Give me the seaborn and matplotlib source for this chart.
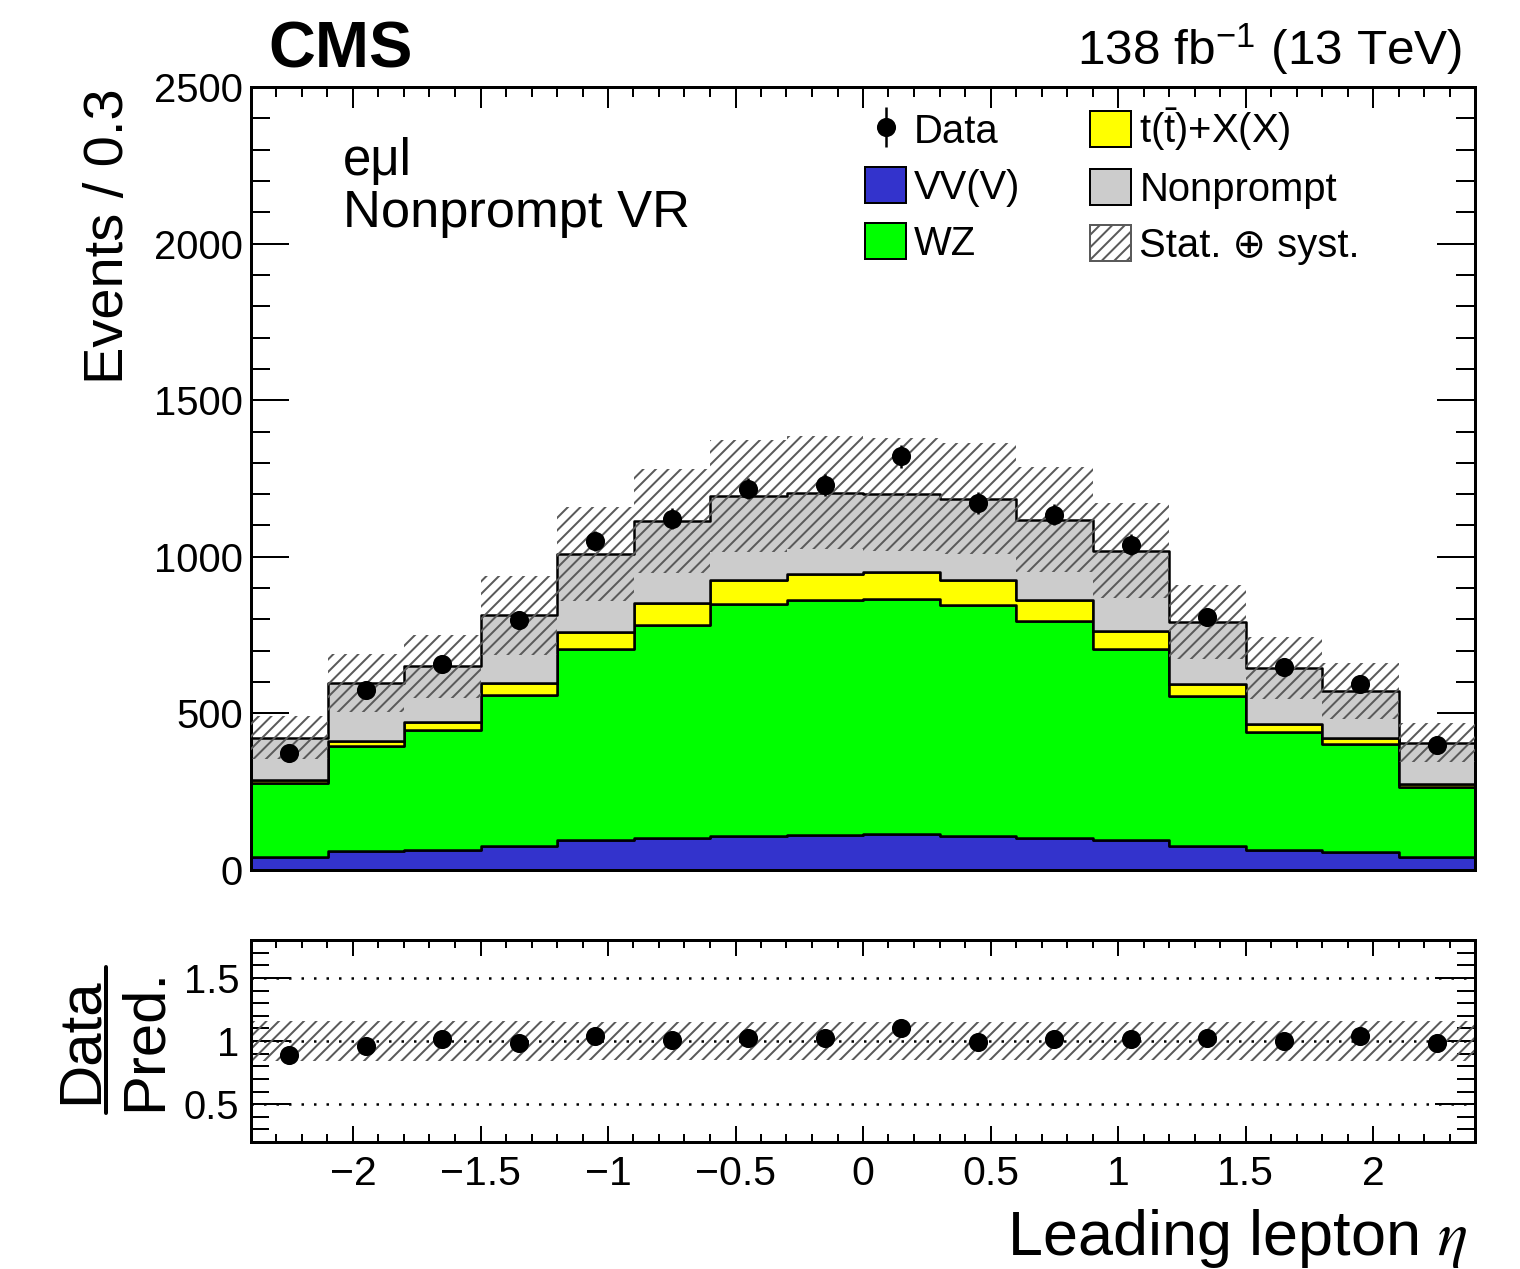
import numpy as np
import pandas as pd
import matplotlib
matplotlib.use("Agg")
import matplotlib.pyplot as plt
from matplotlib.ticker import MultipleLocator, FuncFormatter
from matplotlib.patches import Patch
from matplotlib.lines import Line2D
import seaborn as sns

# ---------------- data ----------------
bin_edges = [-2.4, -2.1, -1.8, -1.5, -1.2, -0.9, -0.6, -0.3, 0.0,
             0.3, 0.6, 0.9, 1.2, 1.5, 1.8, 2.1, 2.4]
vvv = [43, 61, 64, 77, 96, 103, 109, 112, 114, 109, 103, 96, 77, 64, 59, 43]
wz = [234, 335, 384, 483, 610, 680, 741, 751, 752, 738, 691, 611, 479, 376, 344, 223]
ttx = [10, 17, 24, 38, 55, 70, 77, 83, 86, 80, 68, 57, 39, 26, 19, 9]
nonprompt = [136, 184, 178, 215, 248, 261, 267, 258, 247, 259, 257, 256, 196, 179, 150, 132]
data_obs = [375, 575, 659, 799, 1050, 1121, 1218, 1228, 1321, 1172, 1135, 1039, 808, 647, 594, 400]
rel_unc = [0.16, 0.155, 0.155, 0.155, 0.15, 0.15, 0.15, 0.15, 0.15, 0.15, 0.15, 0.15,
           0.15, 0.155, 0.155, 0.155]

proc_names = ["VV(V)", "WZ", r"t($\bar{\mathrm{t}}$)+X(X)", "Nonprompt"]
proc_colors = ["#3333cc", "#00ff00", "#ffff00", "#cccccc"]
main_yticks = [0, 500, 1000, 1500, 2000, 2500]
ratio_yticks = [0.5, 1, 1.5]
x_ticks = [-2, -1.5, -1, -0.5, 0, 0.5, 1, 1.5, 2]

# ---------------- style ----------------
sns.set_style("ticks")
plt.rcParams["font.family"] = ["Liberation Sans", "DejaVu Sans"]
plt.rcParams["mathtext.fontset"] = "custom"
plt.rcParams["mathtext.rm"] = "Liberation Sans"
plt.rcParams["mathtext.it"] = "STIXGeneral:italic"
plt.rcParams["mathtext.bf"] = "Liberation Sans:bold"
plt.rcParams["axes.unicode_minus"] = True
for k in ["text.color", "axes.edgecolor", "axes.labelcolor", "xtick.color", "ytick.color"]:
    plt.rcParams[k] = "black"

DPI = 150
W, H = 1520, 1269


def pt(p):
    return p * 72.0 / DPI


def fx(x):
    return x / W


def fy(y):
    return 1 - y / H


HATCH = "////"
HATCH_COLOR = "#5a5a5a"
plt.rcParams["hatch.linewidth"] = pt(2)
plt.rcParams["hatch.color"] = HATCH_COLOR

fig = plt.figure(figsize=(W / DPI, H / DPI), dpi=DPI)
fig.patch.set_facecolor("white")
ax = fig.add_axes([fx(251), fy(870), (1475 - 251) / W, (870 - 87) / H])
rax = fig.add_axes([fx(251), fy(1142), (1475 - 251) / W, (1142 - 940) / H])

edges = np.array(bin_edges)
centers = 0.5 * (edges[:-1] + edges[1:])

# ---------------- stacked histogram (seaborn) ----------------
series = [vvv, wz, ttx, nonprompt]
rows = []
for name, vals in zip(proc_names, series):
    for c, v in zip(centers, vals):
        rows.append({"eta": float(c), "events": float(v), "process": name})
df = pd.DataFrame(rows)
palette = dict(zip(proc_names, proc_colors))
stack_order = proc_names[::-1]  # last level ends at the bottom of the stack

sns.histplot(data=df, x="eta", weights="events", hue="process",
             hue_order=stack_order, palette=palette, multiple="stack",
             element="step", bins=list(bin_edges), fill=True, alpha=1,
             edgecolor="black", linewidth=pt(2.5), legend=False, ax=ax)

total = np.sum(np.array(series), axis=0)
unc = np.array(rel_unc)
lo = total * (1 - unc)
hi = total * (1 + unc)
ax.fill_between(edges, np.append(lo, lo[-1]), np.append(hi, hi[-1]), step="post",
                facecolor="none", edgecolor=HATCH_COLOR, hatch=HATCH, linewidth=0, zorder=3)

dobs = np.array(data_obs, dtype=float)
derr = ax.errorbar(centers, dobs, yerr=np.sqrt(dobs), fmt="o", color="black",
                   ms=pt(17), elinewidth=pt(2.5), capsize=0, zorder=6)

# ---------------- ratio panel ----------------
for v in ratio_yticks:
    rax.axhline(v, color="black", linestyle=(0, (1, 4)), linewidth=pt(2.5), zorder=1)
rlo = 1 - unc
rhi = 1 + unc
rax.fill_between(edges, np.append(rlo, rlo[-1]), np.append(rhi, rhi[-1]), step="post",
                 facecolor="none", edgecolor=HATCH_COLOR, hatch=HATCH, linewidth=0, zorder=2)
ratio = dobs / total
rax.errorbar(centers, ratio, yerr=np.sqrt(dobs) / total, fmt="o", color="black",
             ms=pt(17), elinewidth=pt(2.5), capsize=0, zorder=6)

# ---------------- axes cosmetics ----------------
fmt = FuncFormatter(lambda v, p: f"{v:g}".replace("-", "\u2212"))
for a in (ax, rax):
    a.set_xlim(-2.4, 2.4)
    a.set_xlabel("")
    a.set_ylabel("")
    a.set_xticks(x_ticks)
    a.xaxis.set_minor_locator(MultipleLocator(0.1))
    a.xaxis.set_major_formatter(fmt)
    a.yaxis.set_major_formatter(fmt)
    for s in a.spines.values():
        s.set_linewidth(pt(3))
        s.set_edgecolor("black")
        s.set_visible(True)
    a.tick_params(which="both", direction="in", top=True, right=True,
                  width=pt(2), colors="black")

ax.set_ylim(0, 2500)
ax.set_yticks(main_yticks)
ax.yaxis.set_minor_locator(MultipleLocator(100))
ax.tick_params(axis="x", which="major", length=pt(21), labelbottom=False)
ax.tick_params(axis="x", which="minor", length=pt(10))
ax.tick_params(axis="y", which="major", length=pt(38), labelsize=pt(40), pad=pt(8))
ax.tick_params(axis="y", which="minor", length=pt(19))

rax.set_ylim(0.2, 1.8)
rax.set_yticks(ratio_yticks)
rax.yaxis.set_minor_locator(MultipleLocator(0.1))
rax.tick_params(axis="x", which="major", length=pt(16), labelsize=pt(41), pad=pt(13))
rax.tick_params(axis="x", which="minor", length=pt(8))
rax.tick_params(axis="y", which="major", length=pt(40), labelsize=pt(40), pad=pt(12))
rax.tick_params(axis="y", which="minor", length=pt(18))

# ---------------- legend ----------------
handles = [derr,
           Patch(facecolor=proc_colors[0], edgecolor="black", linewidth=pt(2)),
           Patch(facecolor=proc_colors[1], edgecolor="black", linewidth=pt(2)),
           Patch(facecolor=proc_colors[2], edgecolor="black", linewidth=pt(2)),
           Patch(facecolor=proc_colors[3], edgecolor="black", linewidth=pt(2)),
           Patch(facecolor="white", edgecolor=HATCH_COLOR, hatch=HATCH, linewidth=pt(2))]
labels = ["Data", proc_names[0], proc_names[1], proc_names[2], proc_names[3],
          "Stat. \u2295 syst."]
ax.legend(handles, labels, ncol=2, loc="upper left",
          bbox_to_anchor=(fx(865), fy(106)), bbox_transform=fig.transFigure,
          frameon=False, fontsize=pt(40), handlelength=1.025, handleheight=1.0,
          handletextpad=0.2, labelspacing=0.41, columnspacing=1.75,
          borderpad=0, borderaxespad=0)

# ---------------- texts ----------------
fig.text(fx(268), fy(68), "CMS", fontsize=pt(65), fontweight="bold",
         ha="left", va="baseline")
fig.text(fx(1462), fy(65), r"138 fb$^{-1}$ (13 TeV)", fontsize=pt(49.5),
         ha="right", va="baseline")
fig.text(fx(343), fy(175), "e\u03bcl", fontsize=pt(51), ha="left", va="baseline")
fig.text(fx(343), fy(227), "Nonprompt VR", fontsize=pt(52.5), ha="left", va="baseline")
fig.text(fx(123), fy(88), "Events / 0.3", fontsize=pt(56), rotation=90,
         rotation_mode="anchor", ha="right", va="baseline")
fig.text(fx(1468), fy(1255), r"Leading lepton $\eta$", fontsize=pt(63),
         ha="right", va="baseline")
fig.text(fx(97), fy(1041), "Data", fontsize=pt(60), rotation=90,
         rotation_mode="anchor", ha="center", va="baseline")
fig.text(fx(161), fy(1039), "Pred.", fontsize=pt(60), rotation=90,
         rotation_mode="anchor", ha="center", va="baseline")
fig.add_artist(Line2D([fx(106), fx(106)], [fy(967), fy(1113)], color="black",
                      linewidth=pt(4), transform=fig.transFigure))

fig.savefig("out.png", dpi=DPI, facecolor="white")
